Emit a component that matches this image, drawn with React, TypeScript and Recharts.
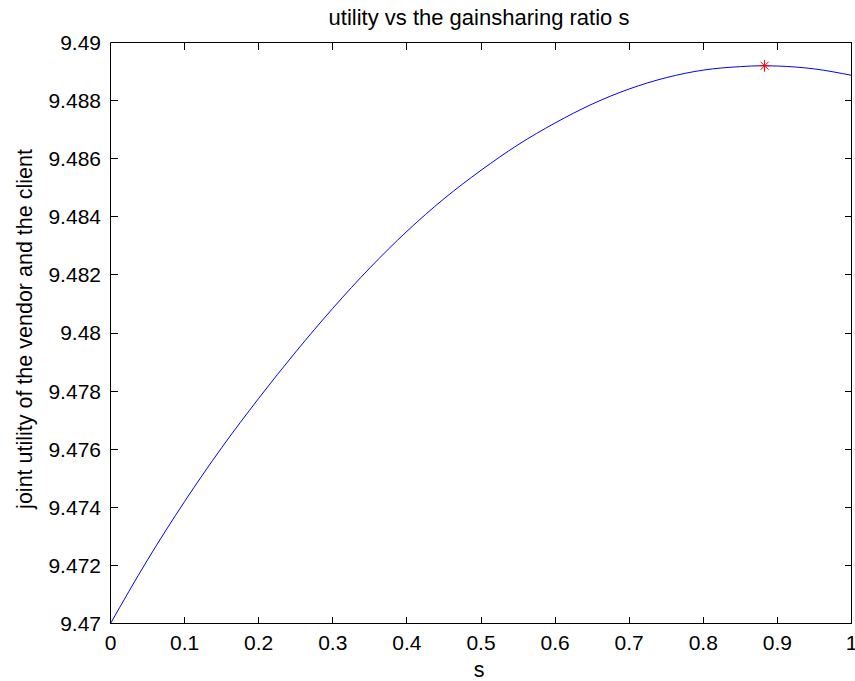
import React from 'react';
import * as Recharts from 'recharts';

const { ComposedChart, Line, Scatter, XAxis, YAxis, ReferenceLine } = Recharts as any;
const plotAreaHook: any = (Recharts as any).usePlotArea || null;
const offsetHook: any = plotAreaHook ? null : (Recharts as any).useOffset || null;

const sValues = [0, 0.05, 0.1, 0.15, 0.2, 0.25, 0.3, 0.35, 0.4, 0.45, 0.5, 0.55, 0.6, 0.65, 0.7, 0.75, 0.8, 0.85, 0.88, 0.9, 0.95, 1];
const utilityValues = [
  9.47, 9.47219, 9.4742, 9.47605, 9.47775, 9.47935, 9.48085, 9.48224, 9.4835, 9.48462, 9.4856,
  9.48648, 9.48723, 9.48788, 9.4884, 9.48879, 9.48905, 9.48917, 9.4892, 9.48919, 9.48909, 9.48887,
];
const peakS = [0.8827];
const peakU = [9.4892];
const xTicks = [0, 0.1, 0.2, 0.3, 0.4, 0.5, 0.6, 0.7, 0.8, 0.9, 1];
const yTicks = [9.47, 9.472, 9.474, 9.476, 9.478, 9.48, 9.482, 9.484, 9.486, 9.488, 9.49];
const xDomain = [0, 1];
const yDomain = [9.47, 9.49];

const titleText = 'utility vs the gainsharing ratio s';
const xLabelText = 's';
const yLabelText = 'joint utility of the vendor and the client';

const curve = sValues.map((s, i) => ({ s, u: utilityValues[i] }));
const peak = peakS.map((s, i) => ({ s, u: peakU[i] }));

const CHART_W = 855;
const CHART_H = 681;
const MARGIN = { top: 42.5, right: 3.5, left: 0.5, bottom: 0.5 };
const Y_AXIS_W = 110;
const X_AXIS_H = 57;

const FONT = '"Liberation Sans", Arial, Helvetica, sans-serif';
const TICK_LEN = 7;

const fmtX = (v: number) => String(Number(v.toFixed(1)));
const fmtY = (v: number) => String(Number(v.toFixed(3)));
const snap = (v: number) => Math.round(v - 0.5) + 0.5;

// inward tick marks on all four sides, placed from the chart's plot area and the axis domains
function BoxTicks() {
  const pa = plotAreaHook ? plotAreaHook() : null;
  const off = offsetHook ? offsetHook() : null;
  let left = MARGIN.left + Y_AXIS_W;
  let top = MARGIN.top;
  let width = CHART_W - MARGIN.left - MARGIN.right - Y_AXIS_W;
  let height = CHART_H - MARGIN.top - MARGIN.bottom - X_AXIS_H;
  if (pa && typeof pa.x === 'number') {
    left = pa.x;
    top = pa.y;
    width = pa.width;
    height = pa.height;
  } else if (off && typeof off.left === 'number') {
    left = off.left;
    top = off.top;
    width = CHART_W - off.left - off.right;
    height = CHART_H - off.top - off.bottom;
  }
  const sx = (s: number) => left + ((s - xDomain[0]) / (xDomain[1] - xDomain[0])) * width;
  const sy = (u: number) => top + height - ((u - yDomain[0]) / (yDomain[1] - yDomain[0])) * height;
  const bottomY = snap(top + height);
  const topY = snap(top);
  const leftX = snap(left);
  const rightX = snap(left + width);
  const parts: string[] = [];
  xTicks.forEach((s) => {
    const x = snap(sx(s));
    parts.push(`M${x},${bottomY}v${-TICK_LEN}`);
    parts.push(`M${x},${topY}v${TICK_LEN}`);
  });
  yTicks.forEach((u) => {
    const y = snap(sy(u));
    parts.push(`M${leftX},${y}h${TICK_LEN}`);
    parts.push(`M${rightX},${y}h${-TICK_LEN}`);
  });
  return (
    <path d={parts.join('')} stroke="#000" strokeWidth={1} fill="none" shapeRendering="crispEdges" />
  );
}

function Asterisk(props: any) {
  const { cx, cy } = props;
  if (cx == null || cy == null) return null;
  return (
    <g stroke="#ff0000" strokeWidth={1}>
      <line x1={cx} y1={cy - 6} x2={cx} y2={cy + 6} />
      <line x1={cx - 5} y1={cy} x2={cx + 5} y2={cy} />
      <line x1={cx - 4} y1={cy - 4} x2={cx + 4} y2={cy + 4} />
      <line x1={cx - 4} y1={cy + 4} x2={cx + 4} y2={cy - 4} />
    </g>
  );
}

export default function App() {
  const tickStyle = { fill: '#000', fontSize: 21, fontFamily: FONT };
  return (
    <div style={{ position: 'absolute', left: 0, top: 0, width: CHART_W, height: CHART_H, background: '#fff' }}>
      <ComposedChart width={CHART_W} height={CHART_H} margin={MARGIN}>
        <XAxis
          xAxisId="bottom"
          dataKey="s"
          type="number"
          orientation="bottom"
          domain={xDomain}
          ticks={xTicks}
          interval={0}
          height={X_AXIS_H}
          tickSize={0}
          tickMargin={11.5}
          tickFormatter={fmtX}
          tick={tickStyle}
          axisLine={{ stroke: '#000', strokeWidth: 1 }}
          tickLine={false}
        />
        <YAxis
          yAxisId="left"
          type="number"
          orientation="left"
          domain={yDomain}
          ticks={yTicks}
          interval={0}
          width={Y_AXIS_W}
          tickSize={0}
          tickMargin={9.5}
          tickFormatter={fmtY}
          tick={tickStyle}
          axisLine={{ stroke: '#000', strokeWidth: 1 }}
          tickLine={false}
        />
        <ReferenceLine xAxisId="bottom" yAxisId="left" y={yDomain[1]} stroke="#000" strokeWidth={1} ifOverflow="visible" />
        <ReferenceLine xAxisId="bottom" yAxisId="left" x={xDomain[1]} stroke="#000" strokeWidth={1} ifOverflow="visible" />
        <Line
          xAxisId="bottom"
          yAxisId="left"
          data={curve}
          dataKey="u"
          type="monotone"
          stroke="#0000ff"
          strokeWidth={1}
          dot={false}
          activeDot={false}
          isAnimationActive={false}
        />
        <Scatter
          xAxisId="bottom"
          yAxisId="left"
          data={peak}
          dataKey="u"
          shape={Asterisk}
          isAnimationActive={false}
        />
        <BoxTicks />
        <text x={479} y={25} textAnchor="middle" fontSize={22} fontFamily={FONT} fill="#000">
          {titleText}
        </text>
        <text x={479} y={677} textAnchor="middle" fontSize={21.5} fontFamily={FONT} fill="#000">
          {xLabelText}
        </text>
        <text
          x={31.5}
          y={329}
          textAnchor="middle"
          fontSize={21.5}
          fontFamily={FONT}
          fill="#000"
          transform="rotate(-90 31.5 329)"
        >
          {yLabelText}
        </text>
      </ComposedChart>
    </div>
  );
}
